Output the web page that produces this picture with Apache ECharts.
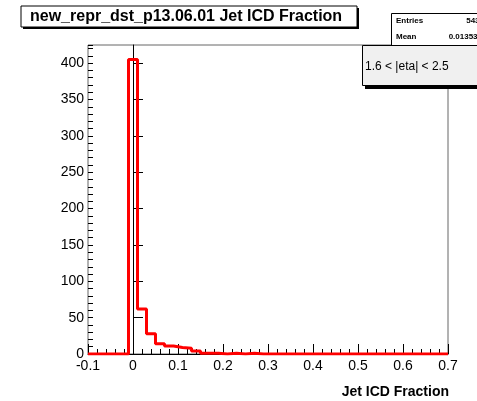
<!DOCTYPE html>
<html>
<head>
<meta charset="utf-8">
<script src="https://cdn.jsdelivr.net/npm/echarts@6/dist/echarts.min.js"></script>
<style>
html,body{margin:0;padding:0;background:#fff;}
#c{width:477px;height:401px;}
</style>
</head>
<body>
<div id="c"></div>
<script>
// ---- data ----
var titleText = 'new_repr_dst_p13.06.01 Jet ICD Fraction';
var xTitle = 'Jet ICD Fraction';
var etaText = '1.6 < |eta| < 2.5';
var statsLabels = ['Entries', 'Mean'];
var statsValues = ['5433', '0.013537'];
var xMin = -0.1, xMax = 0.7;
var binLow = -0.01;     // lower edge of first filled bin
var binWidth = 0.02;
// counts per bin, starting at binLow
var counts = [405, 62, 28, 14, 11, 9, 8, 4, 1, 1, 0, 1, 0, 1, 0];

// ---- build step outline ----
var pts = [[xMin, 0]];
for (var i = 0; i < counts.length; i++) {
  pts.push([+(binLow + i * binWidth).toFixed(4), counts[i]]);
}
pts.push([+(binLow + counts.length * binWidth).toFixed(4), 0]);
pts.push([xMax, 0]);

var font = 'Liberation Sans';
var chart = echarts.init(document.getElementById('c'), null, {renderer: 'canvas'});
chart.setOption({
  animation: false,
  backgroundColor: '#fff',
  grid: {left: 88, top: 45, right: 29, bottom: 47, show: true, borderColor: '#666', borderWidth: 1, backgroundColor: 'transparent'},
  xAxis: {
    type: 'value', min: xMin, max: xMax, interval: 0.1,
    axisLine: {show: true, onZero: false, lineStyle: {color: '#000', width: 1}},
    axisTick: {show: true, inside: true, length: 10, lineStyle: {color: '#000'}},
    minorTick: {show: true, splitNumber: 5, length: 5, lineStyle: {color: '#000'}},
    splitLine: {show: false},
    axisLabel: {fontFamily: font, fontSize: 14, color: '#000', margin: 5,
      formatter: function (v) { return (Math.round(v * 10) / 10).toString(); }}
  },
  yAxis: [{
    type: 'value', min: 0, max: 425, interval: 50, position: 'left',
    axisLine: {show: true, lineStyle: {color: '#000', width: 1}},
    axisTick: {show: true, inside: true, length: 10, lineStyle: {color: '#000'}},
    splitLine: {show: false},
    axisLabel: {fontFamily: font, fontSize: 14, color: '#000', margin: 4, showMaxLabel: false,
      formatter: function (v) { return v % 50 === 0 ? String(v) : ''; }}
  }, {
    type: 'value', min: 0, max: 425, interval: 10, position: 'left',
    axisLine: {show: false},
    axisTick: {show: true, inside: true, length: 5, lineStyle: {color: '#000'}},
    splitLine: {show: false},
    axisLabel: {show: false}
  }],
  series: [{
    type: 'line', step: 'end', data: pts, symbol: 'none', yAxisIndex: 0,
    lineStyle: {color: '#ff0000', width: 3}, z: 3
  }, {
    type: 'line', data: [], yAxisIndex: 1
  }],
  graphic: [
    // title box shadow + box
    {type: 'rect', shape: {x: 23, y: 8, width: 336, height: 21}, style: {fill: '#000'}, z: 10},
    {type: 'rect', shape: {x: 21, y: 6, width: 336, height: 21}, style: {fill: '#fff', stroke: '#000', lineWidth: 1}, z: 11},
    {type: 'text', x: 30, y: 16.5, style: {text: titleText, font: 'bold 16px "Liberation Sans"', fill: '#000', textVerticalAlign: 'middle'}, z: 12},
    // stats box
    {type: 'rect', shape: {x: 391.5, y: 13.5, width: 100, height: 33}, style: {fill: '#fff', stroke: '#000', lineWidth: 1}, z: 10},
    {type: 'text', x: 396, y: 20.5, style: {text: statsLabels[0], font: 'bold 8px "Liberation Sans"', fill: '#000', textVerticalAlign: 'middle'}, z: 12},
    {type: 'text', x: 396, y: 37, style: {text: statsLabels[1], font: 'bold 8px "Liberation Sans"', fill: '#000', textVerticalAlign: 'middle'}, z: 12},
    {type: 'text', x: 484, y: 20.5, style: {text: statsValues[0], font: 'bold 8px "Liberation Sans"', fill: '#000', textAlign: 'right', textVerticalAlign: 'middle'}, z: 12},
    {type: 'text', x: 482, y: 37, style: {text: statsValues[1], font: 'bold 8px "Liberation Sans"', fill: '#000', textAlign: 'right', textVerticalAlign: 'middle'}, z: 12},
    // eta box shadow + box
    {type: 'rect', shape: {x: 365, y: 49, width: 130, height: 40}, style: {fill: '#000'}, z: 13},
    {type: 'rect', shape: {x: 362.5, y: 45.5, width: 130, height: 40}, style: {fill: '#f0f0f0', stroke: '#000', lineWidth: 1}, z: 14},
    {type: 'text', x: 365, y: 66.5, style: {text: etaText, font: '12px "Liberation Sans"', fill: '#000', textVerticalAlign: 'middle'}, z: 15},
    // x axis title
    {type: 'text', x: 449, y: 392, style: {text: xTitle, font: 'bold 14px "Liberation Sans"', fill: '#000', textAlign: 'right', textVerticalAlign: 'middle'}, z: 12}
  ]
});
</script>
</body>
</html>
